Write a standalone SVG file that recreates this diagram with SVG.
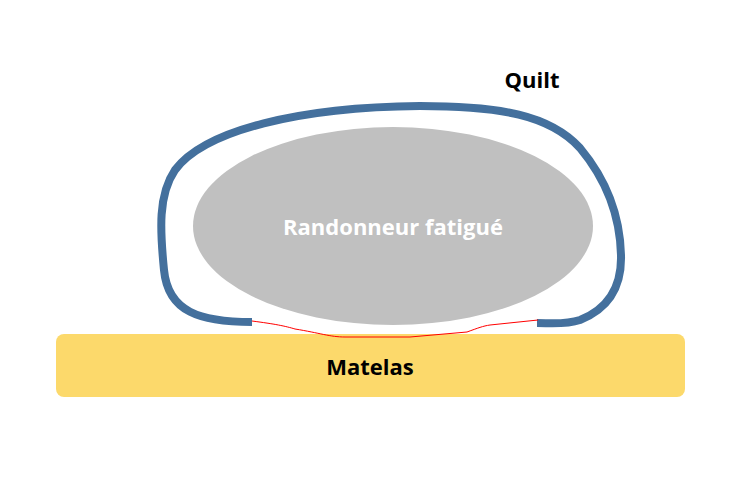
<svg xmlns="http://www.w3.org/2000/svg" width="752" height="492" viewBox="0 0 752 492">
<style>
.lbl{font-family:"Open Sans","Liberation Sans",sans-serif;font-weight:bold;font-size:22px;text-anchor:middle}
</style>
<rect width="752" height="492" fill="#ffffff"/>
<g id="matelas">
<rect x="56" y="334" width="629" height="63" rx="8" fill="#FCD96B"/>
<text class="lbl" x="370" y="375" fill="#000">Matelas</text>
</g>
<g id="randonneur">
<ellipse cx="393" cy="226" rx="200" ry="99" fill="#C0C0C0"/>
<text class="lbl" x="393" y="235" fill="#fff">Randonneur fatigué</text>
</g>
<g id="quilt">
<path d="M 252,322 C 200,322 168,312 164,270 C 160,230 158,195 175,170 C 205,130 300,107 420,106 C 500,106 550,115 580,148 C 605,178 620,215 621,255 C 622,290 605,310 580,320 C 565,325 550,323 537,323" fill="none" stroke="#44709D" stroke-width="8"/>
<text class="lbl" x="532" y="88" fill="#000">Quilt</text>
</g>
<g id="connectors">
<path d="M 252,321 C 275,324 285,326 295,329 C 320,333 330,337 345,337 L 410,337 L 467,332 C 478,328 483,326 490,325 L 538,320" fill="none" stroke="#FF0000" stroke-width="1"/>
</g>
</svg>
